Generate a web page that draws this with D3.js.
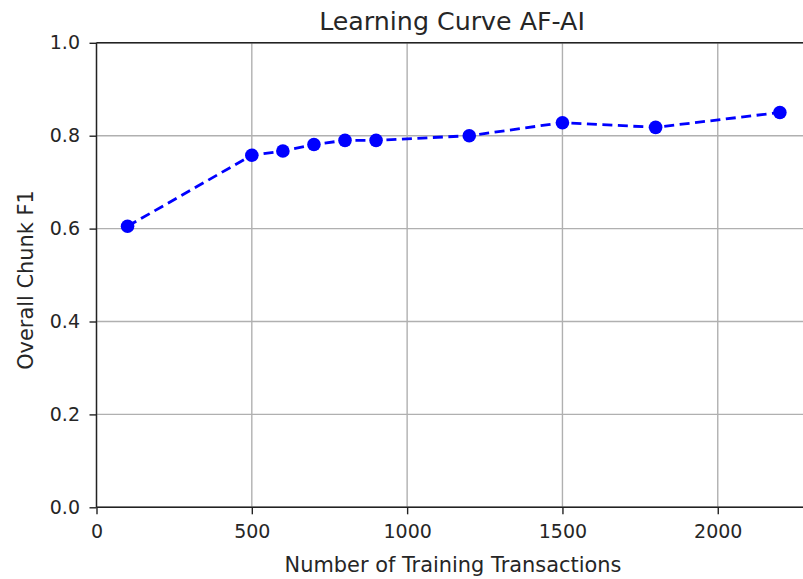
<!DOCTYPE html>
<html>
<head>
<meta charset="utf-8">
<script src="https://cdn.jsdelivr.net/npm/d3@7"></script>
<style>
  html, body { margin: 0; padding: 0; background: #fff; }
  svg { display: block; }
  text { font-family: "DejaVu Sans", sans-serif; fill: #262626; }
</style>
</head>
<body>
<svg id="chart" width="803" height="579"></svg>
<script>
const trainSizes = [100, 500, 600, 700, 800, 900, 1200, 1500, 1800, 2200];
const chunkF1 = [0.605, 0.758, 0.767, 0.781, 0.790, 0.790, 0.800, 0.828, 0.818, 0.850];
const xTicks = [0, 500, 1000, 1500, 2000];
const yTicks = [0.0, 0.2, 0.4, 0.6, 0.8, 1.0];
const titleText = "Learning Curve AF-AI";
const xLabelText = "Number of Training Transactions";
const yLabelText = "Overall Chunk F1";

(function () {
const svg = d3.select("#chart");
const pL = 96.5, pR = 812.5, pT = 42.8, pB = 507.3;

const x = d3.scaleLinear().domain([0, 2305]).range([pL, pR]);
const y = d3.scaleLinear().domain([0, 1]).range([pB, pT]);

// grid
const grid = svg.append("g");
grid.selectAll("line.gx").data(xTicks).enter().append("line")
  .attr("x1", d => x(d)).attr("x2", d => x(d))
  .attr("y1", pT).attr("y2", pB)
  .attr("stroke", "#b0b0b0").attr("stroke-width", 1.4);
grid.selectAll("line.gy").data(yTicks).enter().append("line")
  .attr("x1", pL).attr("x2", pR)
  .attr("y1", d => y(d)).attr("y2", d => y(d))
  .attr("stroke", "#b0b0b0").attr("stroke-width", 1.4);

// axes
const xAxis = d3.axisBottom(x).tickValues(xTicks).tickFormat(d3.format("d")).tickSizeOuter(0).tickSizeInner(7).tickPadding(10);
const yAxis = d3.axisLeft(y).tickValues(yTicks).tickFormat(d3.format(".1f")).tickSizeOuter(0).tickSizeInner(7).tickPadding(9.5);

const gx = svg.append("g").attr("transform", `translate(0,${pB})`).call(xAxis);
const gy = svg.append("g").attr("transform", `translate(${pL},0)`).call(yAxis);
[gx, gy].forEach(g => {
  g.select(".domain").remove();
  g.selectAll(".tick line").attr("stroke", "#222").attr("stroke-width", 1.4);
  g.selectAll(".tick text").attr("font-family", "DejaVu Sans").attr("font-size", 19).attr("fill", "#262626");
});

// spines
const spines = svg.append("g").attr("stroke", "#222").attr("stroke-width", 1.4).attr("fill", "none");
spines.append("line").attr("x1", pL).attr("x2", pR).attr("y1", pB).attr("y2", pB);
spines.append("line").attr("x1", pL).attr("x2", pR).attr("y1", pT).attr("y2", pT);
spines.append("line").attr("x1", pL).attr("x2", pL).attr("y1", pT).attr("y2", pB);
spines.append("line").attr("x1", pR).attr("x2", pR).attr("y1", pT).attr("y2", pB);

// line
const data = trainSizes.map((t, i) => ({ t, v: chunkF1[i] }));
const line = d3.line().x(d => x(d.t)).y(d => y(d.v));
svg.append("path").datum(data)
  .attr("d", line)
  .attr("fill", "none")
  .attr("stroke", "#0000ff")
  .attr("stroke-width", 2.8)
  .attr("stroke-dasharray", "10,5.5");
svg.append("g").selectAll("circle").data(data).enter().append("circle")
  .attr("cx", d => x(d.t)).attr("cy", d => y(d.v))
  .attr("r", 6.8).attr("fill", "#0000ff");

// title & labels
svg.append("text").attr("x", 452).attr("y", 30)
  .attr("text-anchor", "middle").attr("font-size", 25.3).text(titleText);
svg.append("text").attr("x", 453).attr("y", 571.5)
  .attr("text-anchor", "middle").attr("font-size", 20.9).text(xLabelText);
svg.append("text").attr("transform", `translate(33,280) rotate(-90)`)
  .attr("text-anchor", "middle").attr("font-size", 20.9).text(yLabelText);
})();
</script>
</body>
</html>
